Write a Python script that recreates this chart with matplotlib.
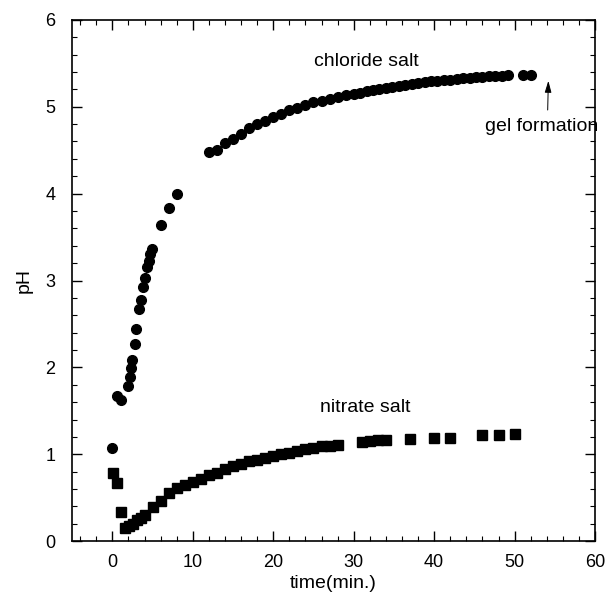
import numpy as np
import matplotlib
matplotlib.use('Agg')
import matplotlib.pyplot as plt
from matplotlib.ticker import MultipleLocator

plt.rcParams['font.family'] = ['Liberation Sans', 'DejaVu Sans']

# chloride salt (circles)
chloride_t = [0.0, 0.55, 1.05, 2.0, 2.15, 2.35, 2.5, 2.8, 3.0, 3.3, 3.5, 3.8, 4.0,
              4.3, 4.5, 4.7, 4.95, 6.0, 7.0, 8.0,
              12, 13, 14, 15, 16, 17, 18, 19, 20, 21, 22, 23, 24, 25, 26, 27, 28, 29, 30,
              30.8, 31.6, 32.4, 33.2, 34.0, 34.8, 35.6, 36.4, 37.2, 38.0, 38.8, 39.6,
              40.4, 41.2, 42.0, 42.8, 43.6, 44.4, 45.2, 46.0, 46.8, 47.6, 48.4, 49.2,
              51.0, 52.0]
chloride_ph = [1.07, 1.67, 1.62, 1.79, 1.89, 1.99, 2.09, 2.27, 2.44, 2.67, 2.78, 2.93, 3.03,
               3.15, 3.22, 3.30, 3.36, 3.64, 3.84, 4.00,
               4.48, 4.50, 4.58, 4.63, 4.69, 4.75, 4.80, 4.84, 4.88, 4.92, 4.96, 4.99, 5.02,
               5.05, 5.07, 5.09, 5.11, 5.13, 5.15,
               5.16, 5.18, 5.19, 5.20, 5.22, 5.23, 5.24, 5.25, 5.26, 5.27, 5.28, 5.29,
               5.30, 5.31, 5.31, 5.32, 5.33, 5.33, 5.34, 5.34, 5.35, 5.35, 5.35, 5.36,
               5.36, 5.36]

# nitrate salt (squares)
nitrate_t = [0.05, 0.6, 1.1, 1.6, 2.1, 2.6, 3.1, 3.6, 4.1, 5, 6, 7, 8, 9, 10, 11, 12, 13,
             14, 15, 16, 17, 18, 19, 20, 21, 22, 23, 24, 25, 26, 27, 28,
             31, 32, 33, 34, 37, 40, 42, 46, 48, 50]
nitrate_ph = [0.79, 0.67, 0.34, 0.15, 0.17, 0.20, 0.24, 0.27, 0.30, 0.39, 0.46, 0.55, 0.61,
              0.65, 0.68, 0.72, 0.76, 0.79, 0.83, 0.86, 0.89, 0.92, 0.94, 0.96, 0.98, 1.00,
              1.02, 1.04, 1.06, 1.07, 1.09, 1.10, 1.11,
              1.14, 1.15, 1.16, 1.17, 1.18, 1.19, 1.19, 1.22, 1.22, 1.23]

fig = plt.figure(figsize=(6.06, 6.0), dpi=100)
ax = fig.add_axes([0.119, 0.098, 0.863, 0.869])

ax.plot(chloride_t, chloride_ph, 'o', color='black', ms=7, mec='black')
ax.plot(nitrate_t, nitrate_ph, 's', color='black', ms=6.6, mec='black')

ax.text(31.6, 5.52, 'chloride salt', ha='center', va='center', fontsize=14)
ax.text(31.4, 1.54, 'nitrate salt', ha='center', va='center', fontsize=14)
ax.text(53.3, 4.77, 'gel formation', ha='center', va='center', fontsize=14)
ax.annotate('', xy=(54.2, 5.33), xytext=(54.1, 4.93),
            arrowprops=dict(arrowstyle='-|>,head_length=0.7,head_width=0.2',
                            color='black', lw=0.7))

ax.set_xlim(-5, 60)
ax.set_ylim(0, 6)
ax.xaxis.set_major_locator(MultipleLocator(10))
ax.xaxis.set_minor_locator(MultipleLocator(2))
ax.yaxis.set_major_locator(MultipleLocator(1))
ax.yaxis.set_minor_locator(MultipleLocator(0.2))
ax.tick_params(which='both', direction='in', top=True, right=True, labelsize=13)
ax.tick_params(which='major', length=7, width=1)
ax.tick_params(which='minor', length=3.5, width=0.8)
ax.tick_params(axis='x', pad=9)
ax.tick_params(axis='y', pad=12)
for s in ax.spines.values():
    s.set_linewidth(1.2)

ax.set_xlabel('time(min.)', fontsize=14, labelpad=3)
ax.set_ylabel('pH', fontsize=14, labelpad=9)

fig.savefig('out.png', dpi=100)
